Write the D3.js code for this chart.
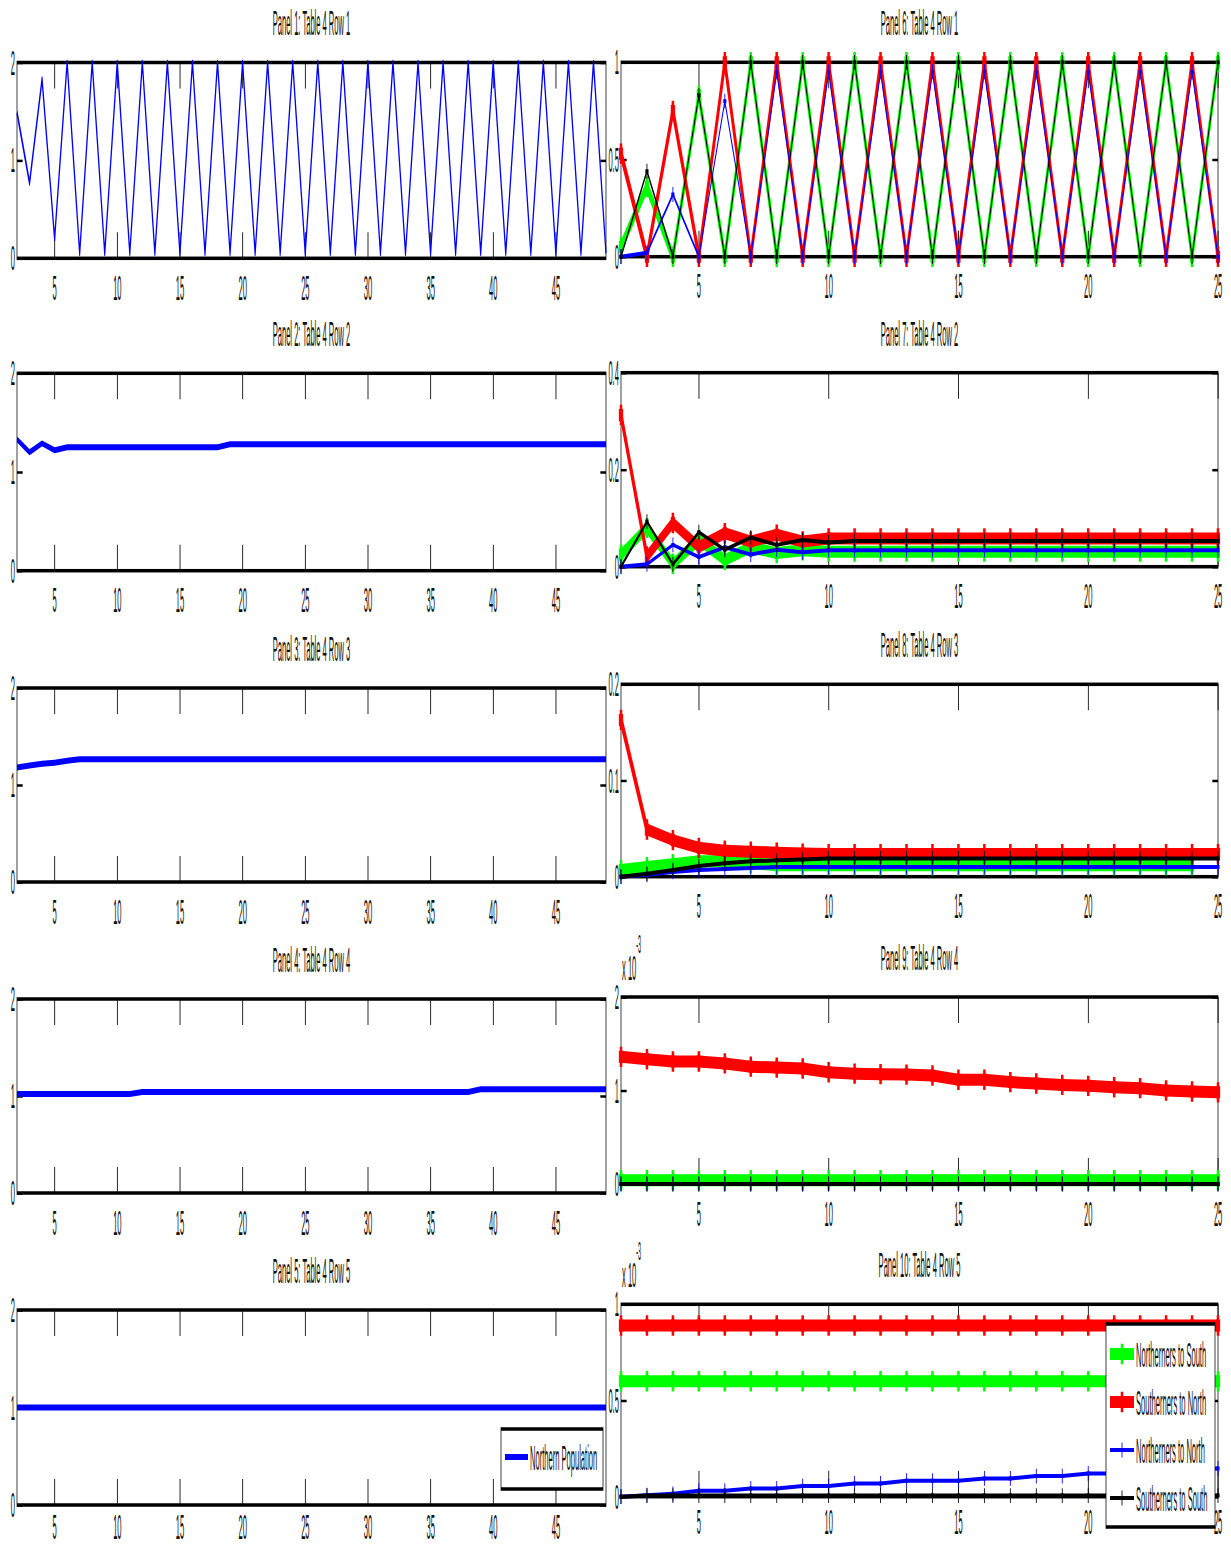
<!DOCTYPE html>
<html>
<head>
<meta charset="utf-8">
<script src="https://cdn.jsdelivr.net/npm/d3@7"></script>
<style>
  body { margin: 0; background: #fff; }
</style>
</head>
<body>
<div id="chart"></div>
<script>
// time steps on the two columns of panels
const stepsLeft = [2, 3, 4, 5, 6, 7, 8, 9, 10, 11, 12, 13, 14, 15, 16, 17, 18, 19, 20, 21, 22, 23, 24, 25,
  26, 27, 28, 29, 30, 31, 32, 33, 34, 35, 36, 37, 38, 39, 40, 41, 42, 43, 44, 45, 46, 47, 48, 49];
const stepsRight = [2, 3, 4, 5, 6, 7, 8, 9, 10, 11, 12, 13, 14, 15, 16, 17, 18, 19, 20, 21, 22, 23, 24, 25];
const ticksLeft = [5, 10, 15, 20, 25, 30, 35, 40, 45];
const ticksRight = [5, 10, 15, 20, 25];

// left column: northern population (Table 4 rows 1-5)
const northRow1 = [1.49, 0.77, 1.83, 0.2,
  2, 0.05, 2, 0.05, 2, 0.05, 2, 0.05, 2, 0.05,
  2, 0.05, 2, 0.05, 2, 0.05, 2, 0.05, 2, 0.05,
  2, 0.05, 2, 0.05, 2, 0.05, 2, 0.05, 2, 0.05,
  2, 0.05, 2, 0.05, 2, 0.05, 2, 0.05, 2, 0.05,
  2, 0.05, 2, 0.05];
const northRow2 = [1.33, 1.20, 1.29, 1.22,
  1.25, 1.25, 1.25, 1.25, 1.25, 1.25, 1.25, 1.25, 1.25, 1.25, 1.25, 1.25, 1.25,
  1.28, 1.28, 1.28, 1.28, 1.28, 1.28, 1.28, 1.28, 1.28, 1.28,
  1.28, 1.28, 1.28, 1.28, 1.28, 1.28, 1.28, 1.28, 1.28, 1.28,
  1.28, 1.28, 1.28, 1.28, 1.28, 1.28, 1.28, 1.28, 1.28, 1.28, 1.28];
const northRow3 = [1.18, 1.20, 1.22, 1.23, 1.25,
  1.265, 1.265, 1.265, 1.265, 1.265, 1.265, 1.265, 1.265, 1.265, 1.265,
  1.265, 1.265, 1.265, 1.265, 1.265, 1.265, 1.265, 1.265, 1.265, 1.265,
  1.265, 1.265, 1.265, 1.265, 1.265, 1.265, 1.265, 1.265, 1.265, 1.265,
  1.265, 1.265, 1.265, 1.265, 1.265, 1.265, 1.265, 1.265, 1.265, 1.265,
  1.265, 1.265, 1.265];
const northRow4 = [1.02, 1.02, 1.02, 1.02, 1.02, 1.02, 1.02, 1.02, 1.02, 1.02,
  1.04, 1.04, 1.04, 1.04, 1.04, 1.04, 1.04, 1.04, 1.04, 1.04,
  1.04, 1.04, 1.04, 1.04, 1.04, 1.04, 1.04, 1.04, 1.04, 1.04,
  1.04, 1.04, 1.04, 1.04, 1.04, 1.04, 1.04,
  1.07, 1.07, 1.07, 1.07, 1.07, 1.07, 1.07, 1.07, 1.07, 1.07, 1.07];
const northRow5 = [1, 1, 1, 1, 1, 1, 1, 1, 1, 1, 1, 1, 1, 1, 1, 1, 1, 1, 1, 1, 1, 1, 1, 1,
  1, 1, 1, 1, 1, 1, 1, 1, 1, 1, 1, 1, 1, 1, 1, 1, 1, 1, 1, 1, 1, 1, 1, 1];

// right column: migration shares (rows 4 and 5 are in units of 1e-3)
// ns = northerners to south, sn = southerners to north, nn = northerners to north, ss = southerners to south
const nsRow1 = [0.05, 0.36, 0, 0.83, 0, 1, 0, 1, 0, 1, 0, 1, 0, 1, 0, 1, 0, 1, 0, 1, 0, 1, 0, 1];
const snRow1 = [0.53, 0, 0.75, 0, 1, 0, 1, 0, 1, 0, 1, 0, 1, 0, 1, 0, 1, 0, 1, 0, 1, 0, 1, 0];
const nnRow1 = [0, 0.02, 0.32, 0, 0.8, 0, 0.95, 0, 0.95, 0, 0.95, 0, 0.95, 0, 0.95, 0, 0.95, 0, 0.95, 0, 0.95, 0, 0.95, 0];
const ssRow1 = [0, 0.44, 0, 0.83, 0, 1, 0, 1, 0, 1, 0, 1, 0, 1, 0, 1, 0, 1, 0, 1, 0, 1, 0, 1];

const nsRow2 = [0.025, 0.08, 0.006, 0.055, 0.014, 0.04, 0.028, 0.034,
  0.031, 0.031, 0.031, 0.031, 0.031, 0.031, 0.031, 0.031, 0.031, 0.031, 0.031, 0.031, 0.031, 0.031, 0.031, 0.031];
const snRow2 = [0.313, 0.021, 0.09, 0.041, 0.069, 0.052, 0.066, 0.052, 0.058,
  0.058, 0.058, 0.058, 0.058, 0.058, 0.058, 0.058, 0.058, 0.058, 0.058, 0.058, 0.058, 0.058, 0.058, 0.058];
const nnRow2 = [0, 0.005, 0.045, 0.02, 0.04, 0.025, 0.035, 0.03,
  0.034, 0.034, 0.034, 0.034, 0.034, 0.034, 0.034, 0.034, 0.034, 0.034, 0.034, 0.034, 0.034, 0.034, 0.034, 0.034];
const ssRow2 = [0, 0.093, 0.005, 0.071, 0.035, 0.06, 0.045, 0.055, 0.05,
  0.053, 0.053, 0.053, 0.053, 0.053, 0.053, 0.053, 0.053, 0.053, 0.053, 0.053, 0.053, 0.053, 0.053, 0.053];

const nsRow3 = [0.007, 0.010, 0.013, 0.016, 0.016, 0.014, 0.012,
  0.012, 0.012, 0.012, 0.012, 0.012, 0.012, 0.012, 0.012, 0.012, 0.012, 0.012, 0.012, 0.012, 0.012, 0.012, 0.012];
const snRow3 = [0.163, 0.049, 0.038, 0.030, 0.027, 0.026, 0.025, 0.024,
  0.0235, 0.0235, 0.0235, 0.0235, 0.0235, 0.0235, 0.0235, 0.0235,
  0.0235, 0.0235, 0.0235, 0.0235, 0.0235, 0.0235, 0.0235, 0.0235];
const nnRow3 = [0, 0.002, 0.005, 0.007, 0.008, 0.009,
  0.010, 0.010, 0.010, 0.010, 0.010, 0.010, 0.010, 0.010, 0.010, 0.010, 0.010, 0.010, 0.010, 0.010, 0.010, 0.010, 0.010, 0.010];
const ssRow3 = [0, 0.003, 0.007, 0.011, 0.014, 0.016, 0.017, 0.018,
  0.019, 0.019, 0.019, 0.019, 0.019, 0.019, 0.019, 0.019, 0.019, 0.019, 0.019, 0.019, 0.019, 0.019, 0.019, 0.019];

const nsRow4 = [0.04, 0.04, 0.04, 0.04, 0.04, 0.04, 0.04, 0.04, 0.04, 0.04, 0.04, 0.04,
  0.04, 0.04, 0.04, 0.04, 0.04, 0.04, 0.04, 0.04, 0.04, 0.04, 0.04, 0.04];
const snRow4 = [1.36, 1.335, 1.31, 1.31, 1.29, 1.255, 1.245, 1.235, 1.195, 1.18, 1.175, 1.17,
  1.16, 1.115, 1.115, 1.09, 1.075, 1.06, 1.05, 1.035, 1.025, 1.0, 0.99, 0.98];
const nnRow4 = [0, 0, 0, 0, 0, 0, 0, 0, 0, 0, 0, 0, 0, 0, 0, 0, 0, 0, 0, 0, 0, 0, 0, 0];
const ssRow4 = [0, 0, 0, 0, 0, 0, 0, 0, 0, 0, 0, 0, 0, 0, 0, 0, 0, 0, 0, 0, 0, 0, 0, 0];

const nsRow5 = [0.6, 0.6, 0.6, 0.6, 0.6, 0.6, 0.6, 0.6, 0.6, 0.6, 0.6, 0.6,
  0.6, 0.6, 0.6, 0.6, 0.6, 0.6, 0.6, 0.6, 0.6, 0.6, 0.6, 0.6];
const snRow5 = [0.89, 0.89, 0.89, 0.89, 0.89, 0.89, 0.89, 0.89, 0.89, 0.89, 0.89, 0.89,
  0.89, 0.89, 0.89, 0.89, 0.89, 0.89, 0.89, 0.89, 0.89, 0.89, 0.89, 0.89];
const nnRow5 = [0, 0.008, 0.015, 0.031, 0.031, 0.043, 0.043, 0.055, 0.055, 0.069, 0.069, 0.083,
  0.083, 0.083, 0.095, 0.095, 0.107, 0.107, 0.121, 0.121, 0.133, 0.134, 0.146, 0.147];
const ssRow5 = [0, 0.006, 0.006, 0.006, 0.006, 0.006, 0.006, 0.006, 0.006, 0.006, 0.006, 0.006,
  0.006, 0.006, 0.006, 0.006, 0.006, 0.006, 0.006, 0.006, 0.006, 0.006, 0.006, 0.006];

const seriesNames = ['Northerners to South', 'Southerners to North', 'Northerners to North', 'Southerners to South'];
const leftName = 'Northern Population';

// the figure was squashed sideways, so draw in a wide space and scale x down
const SX = 0.21;
const width = 1231, height = 1548;
const vx = px => px / SX;

const font = '"Liberation Sans", Arial, sans-serif';
const colors = ['#00ff00', '#ff0000', '#0000ff', '#000000'];
const widths = [12, 12, 4, 4];

const svg = d3.select('#chart').append('svg')
  .attr('width', width)
  .attr('height', height)
  .style('background', '#fff');
const root = svg.append('g').attr('transform', `scale(${SX},1)`);

function plus(cx, cy, s) {
  return `M${cx - s},${cy}H${cx + s}M${cx},${cy - s}V${cy + s}`;
}

function panel(opt) {
  const g = root.append('g');
  const x = d3.scaleLinear()
    .domain([opt.steps[0], opt.steps[opt.steps.length - 1]])
    .range([vx(opt.left), vx(opt.right)]);
  const y = d3.scaleLinear().domain(opt.yDomain).range([opt.bottom, opt.top]);

  g.append('rect')
    .attr('x', vx(opt.left)).attr('y', opt.top)
    .attr('width', vx(opt.right) - vx(opt.left))
    .attr('height', opt.bottom - opt.top)
    .attr('fill', 'none').attr('stroke', '#000').attr('stroke-width', 3.5);

  const xb = g.append('g').attr('transform', `translate(0,${opt.bottom})`)
    .call(d3.axisBottom(x).tickValues(opt.xTicks).tickSizeInner(-26).tickSizeOuter(0).tickPadding(opt.labelPad || 16));
  const xt = g.append('g').attr('transform', `translate(0,${opt.top})`)
    .call(d3.axisTop(x).tickValues(opt.xTicks).tickSizeInner(-26).tickSizeOuter(0).tickFormat(''));
  const yl = g.append('g').attr('transform', `translate(${vx(opt.left)},0)`)
    .call(d3.axisLeft(y).tickValues(opt.yTicks).tickSizeInner(-27).tickSizeOuter(0).tickPadding(10).tickFormat(d => String(d)));
  const yr = g.append('g').attr('transform', `translate(${vx(opt.right)},0)`)
    .call(d3.axisRight(y).tickValues(opt.yTicks).tickSizeInner(-27).tickSizeOuter(0).tickFormat(''));

  [xb, xt, yl, yr].forEach(a => {
    a.select('.domain').remove();
    a.attr('font-family', font).attr('font-size', 36);
    a.selectAll('text').attr('fill', '#111');
  });
  [xb, xt].forEach(a => a.selectAll('line').attr('stroke', '#000').attr('stroke-width', 4));
  [yl, yr].forEach(a => a.selectAll('line').attr('stroke', '#000').attr('stroke-width', 2.5));

  g.append('text')
    .attr('x', vx((opt.left + opt.right) / 2)).attr('y', opt.top - 27)
    .attr('text-anchor', 'middle')
    .attr('font-family', font).attr('font-size', 36).attr('fill', '#111')
    .text(opt.title);

  if (opt.exponent) {
    const t = g.append('text')
      .attr('x', vx(opt.left + 1)).attr('y', opt.top - 17)
      .attr('font-family', font).attr('font-size', 36).attr('fill', '#111');
    t.append('tspan').text('x 10');
    t.append('tspan').attr('dy', -27).attr('font-size', 26).text(opt.exponent);
  }

  const line = d3.line().x(d => x(d.t)).y(d => y(d.v));
  opt.series.forEach(s => {
    const pts = opt.steps.map((t, i) => ({ t: t, v: s.values[i] }));
    g.append('path').datum(pts)
      .attr('fill', 'none')
      .attr('stroke', s.color)
      .attr('stroke-width', s.width)
      .attr('stroke-linejoin', 'round')
      .attr('d', line);
    if (s.marker) {
      g.append('g').selectAll('path').data(pts).join('path')
        .attr('d', d => plus(x(d.t), y(d.v), 6 + s.width * 0.35))
        .attr('fill', 'none')
        .attr('stroke', s.color)
        .attr('stroke-width', s.width);
    }
  });
}

function legend(box, entries) {
  const lg = root.append('g');
  lg.append('rect')
    .attr('x', vx(box.x0)).attr('y', box.y0)
    .attr('width', vx(box.x1) - vx(box.x0)).attr('height', box.y1 - box.y0)
    .attr('fill', '#fff').attr('stroke', '#000').attr('stroke-width', 3.5);
  entries.forEach((e, i) => {
    const cy = box.first + i * box.gap;
    lg.append('line')
      .attr('x1', vx(box.lineX0)).attr('x2', vx(box.lineX1))
      .attr('y1', cy).attr('y2', cy)
      .attr('stroke', e.color).attr('stroke-width', e.width);
    if (e.marker) {
      lg.append('path')
        .attr('d', plus(vx((box.lineX0 + box.lineX1) / 2), cy, 6 + e.width * 0.35))
        .attr('fill', 'none').attr('stroke', e.color).attr('stroke-width', e.width);
    }
    lg.append('text')
      .attr('x', vx(box.textX)).attr('y', cy).attr('dy', '0.36em')
      .attr('font-family', font).attr('font-size', 36).attr('fill', '#111')
      .text(e.name);
  });
}

// left column
const leftRows = [
  { top: 62.5, bottom: 258.3, values: northRow1, width: 6 },
  { top: 373.3, bottom: 570.7, values: northRow2, width: 6 },
  { top: 688, bottom: 882, values: northRow3, width: 6 },
  { top: 999, bottom: 1193, values: northRow4, width: 6 },
  { top: 1310, bottom: 1505, values: northRow5, width: 6, labelPad: 8 }
];
leftRows.forEach((r, i) => {
  panel({
    title: `Panel ${i + 1}: Table 4 Row ${i + 1}`,
    left: 17, right: 606, top: r.top, bottom: r.bottom, labelPad: r.labelPad,
    steps: stepsLeft, xTicks: ticksLeft,
    yDomain: [0, 2], yTicks: [0, 1, 2],
    series: [{ values: r.values, color: '#0000ff', width: r.width, marker: false }]
  });
});

// right column
const rightRows = [
  { top: 62.3, bottom: 256.7, yDomain: [0, 1], yTicks: [0, 0.5, 1], data: [nsRow1, snRow1, nnRow1, ssRow1] },
  { top: 372.7, bottom: 566.7, yDomain: [0, 0.4], yTicks: [0, 0.2, 0.4], data: [nsRow2, snRow2, nnRow2, ssRow2] },
  { top: 684.3, bottom: 876.7, yDomain: [0, 0.2], yTicks: [0, 0.1, 0.2], data: [nsRow3, snRow3, nnRow3, ssRow3] },
  { top: 997, bottom: 1184, yDomain: [0, 2], yTicks: [0, 1, 2], data: [nsRow4, snRow4, nnRow4, ssRow4], exponent: '-3' },
  { top: 1304.3, bottom: 1496.7, yDomain: [0, 1], yTicks: [0, 0.5, 1], data: [nsRow5, snRow5, nnRow5, ssRow5], exponent: '-3', labelPad: 12 }
];
rightRows.forEach((r, i) => {
  panel({
    title: `Panel ${i + 6}: Table 4 Row ${i + 1}`,
    left: 621, right: 1218, top: r.top, bottom: r.bottom, labelPad: r.labelPad,
    steps: stepsRight, xTicks: ticksRight,
    yDomain: r.yDomain, yTicks: r.yTicks, exponent: r.exponent,
    series: r.data.map((vals, k) => ({ values: vals, color: colors[k], width: widths[k], marker: true }))
  });
});

legend(
  { x0: 501, x1: 603, y0: 1429, y1: 1489, first: 1457, gap: 0, lineX0: 505, lineX1: 528, textX: 530 },
  [{ name: leftName, color: '#0000ff', width: 6, marker: false }]
);
legend(
  { x0: 1106, x1: 1215, y0: 1324, y1: 1527, first: 1354, gap: 48, lineX0: 1110, lineX1: 1134, textX: 1136 },
  seriesNames.map((n, k) => ({ name: n, color: colors[k], width: widths[k], marker: true }))
);
</script>
</body>
</html>
